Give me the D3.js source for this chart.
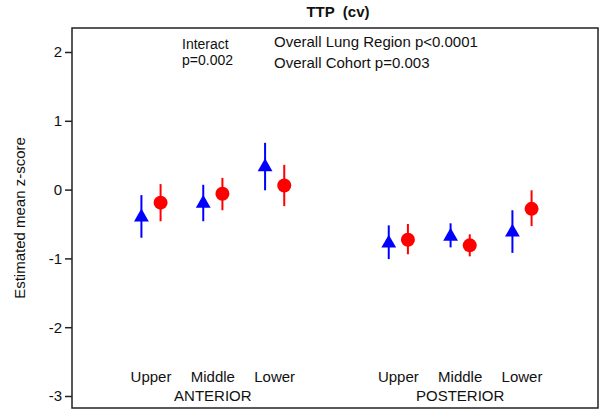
<!DOCTYPE html>
<html>
<head>
<meta charset="utf-8">
<script src="https://cdn.jsdelivr.net/npm/d3@7"></script>
<style>
  body { margin: 0; background: #fff; }
  svg { font-family: "Liberation Sans", Arial, sans-serif; }
</style>
</head>
<body>
<div id="chart"></div>
<script>
// regions along x, position index (gap between anterior and posterior)
const regions = ['Upper', 'Middle', 'Lower', 'Upper', 'Middle', 'Lower']
const regionPos = [0, 1, 2, 4, 5, 6]
const groups = ['ANTERIOR', 'POSTERIOR']
const groupPos = [1, 5]

// blue triangles
const triMean = [-0.40, -0.20, 0.33, -0.78, -0.68, -0.62]
const triLow = [-0.70, -0.46, -0.01, -1.01, -0.84, -0.92]
const triHigh = [-0.08, 0.07, 0.68, -0.52, -0.49, -0.30]

// red circles
const dotMean = [-0.19, -0.06, 0.06, -0.73, -0.81, -0.28]
const dotLow = [-0.46, -0.30, -0.24, -0.94, -0.97, -0.53]
const dotHigh = [0.08, 0.17, 0.36, -0.50, -0.65, -0.01]

const yTicks = [-3, -2, -1, 0, 1, 2]

const width = 601
const height = 410
const plot = { left: 72, right: 598, top: 28, bottom: 408 }
const ink = '#111'

const svg = d3.select('#chart').append('svg')
  .attr('width', width)
  .attr('height', height)

const x = d3.scaleLinear().domain([0, 6]).range([151, 522])
const y = d3.scaleLinear().domain([-3, 2]).range([396, 52])
const offset = 0.155

// frame
svg.append('rect')
  .attr('x', plot.left)
  .attr('y', plot.top)
  .attr('width', plot.right - plot.left)
  .attr('height', plot.bottom - plot.top)
  .attr('fill', 'none')
  .attr('stroke', '#222')
  .attr('stroke-width', 1.5)

// y axis
const yAxis = d3.axisLeft(y).tickValues(yTicks).tickSize(7).tickPadding(3)
  .tickFormat(d => String(d))
const ya = svg.append('g').attr('transform', `translate(${plot.left},0)`).call(yAxis)
ya.select('.domain').remove()
ya.selectAll('.tick line').attr('stroke', '#222').attr('stroke-width', 1.5)
ya.selectAll('.tick text').attr('font-size', 15).attr('fill', ink)
  .attr('font-family', '"Liberation Sans", Arial, sans-serif')

svg.append('text')
  .attr('transform', `translate(25,${(plot.top + plot.bottom) / 2}) rotate(-90)`)
  .attr('text-anchor', 'middle')
  .attr('font-size', 15)
  .attr('fill', ink)
  .text('Estimated mean z-score')

// title
svg.append('text')
  .attr('x', 338).attr('y', 17)
  .attr('text-anchor', 'middle')
  .attr('font-size', 15)
  .attr('font-weight', 'bold')
  .attr('fill', ink)
  .style('white-space', 'pre')
  .text('TTP  (cv)')

// annotations
const notes = [
  { t: 'Interact', x: 182, y: 48.5, s: 14 },
  { t: 'p=0.002', x: 182, y: 64.5, s: 14 },
  { t: 'Overall Lung Region p<0.0001', x: 274, y: 47, s: 15 },
  { t: 'Overall Cohort p=0.003', x: 274, y: 68, s: 15 }
]
svg.selectAll('.note').data(notes).enter().append('text')
  .attr('class', 'note')
  .attr('x', d => d.x).attr('y', d => d.y)
  .attr('font-size', d => d.s)
  .attr('fill', ink)
  .text(d => d.t)

// category labels
svg.selectAll('.cat').data(regions).enter().append('text')
  .attr('class', 'cat')
  .attr('x', (d, i) => x(regionPos[i]))
  .attr('y', 382)
  .attr('text-anchor', 'middle')
  .attr('font-size', 15)
  .attr('fill', ink)
  .text(d => d)

svg.selectAll('.grp').data(groups).enter().append('text')
  .attr('class', 'grp')
  .attr('x', (d, i) => x(groupPos[i]))
  .attr('y', 401)
  .attr('text-anchor', 'middle')
  .attr('font-size', 15)
  .attr('fill', ink)
  .text(d => d)

// error bars + markers
const tri = regionPos.map((p, i) => ({ p: p - offset, m: triMean[i], lo: triLow[i], hi: triHigh[i] }))
const dot = regionPos.map((p, i) => ({ p: p + offset, m: dotMean[i], lo: dotLow[i], hi: dotHigh[i] }))

svg.selectAll('.tbar').data(tri).enter().append('line')
  .attr('x1', d => x(d.p)).attr('x2', d => x(d.p))
  .attr('y1', d => y(d.lo)).attr('y2', d => y(d.hi))
  .attr('stroke', '#0000ff').attr('stroke-width', 2)

svg.selectAll('.dbar').data(dot).enter().append('line')
  .attr('x1', d => x(d.p)).attr('x2', d => x(d.p))
  .attr('y1', d => y(d.lo)).attr('y2', d => y(d.hi))
  .attr('stroke', '#ff0000').attr('stroke-width', 2)

const triSym = d3.symbol().type(d3.symbolTriangle).size(95)
svg.selectAll('.tri').data(tri).enter().append('path')
  .attr('transform', d => `translate(${x(d.p)},${y(d.m)})`)
  .attr('d', triSym)
  .attr('fill', '#0000ff')

svg.selectAll('.dot').data(dot).enter().append('circle')
  .attr('cx', d => x(d.p)).attr('cy', d => y(d.m))
  .attr('r', 7)
  .attr('fill', '#ff0000')
</script>
</body>
</html>
